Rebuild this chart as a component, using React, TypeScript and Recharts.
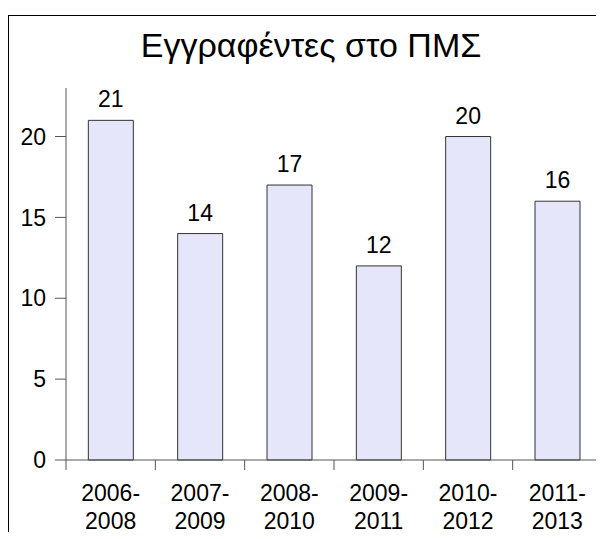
import { BarChart, Bar, XAxis, YAxis, LabelList } from 'recharts';

const periods = ['2006-2008', '2007-2009', '2008-2010', '2009-2011', '2010-2012', '2011-2013'];
const enrolled = [21, 14, 17, 12, 20, 16];
const yTicks = [0, 5, 10, 15, 20];

const data = periods.map((p, i) => ({ name: p, value: enrolled[i] }));

const chartW = 595;
const chartH = 523;
const margin = { top: 72, right: 2, bottom: 19, left: 7 };
const yAxisW = 50;
const band = (chartW - margin.left - margin.right - yAxisW) / periods.length;

const font = '"Liberation Sans", Arial, sans-serif';

function PeriodTick(props: any) {
  const { x, y, payload, index } = props;
  const [a, b] = String(payload.value).split('-');
  return (
    <g>
      <line x1={x - band / 2} y1={y} x2={x - band / 2} y2={y + 10} stroke="#555" />
      {index === periods.length - 1 && (
        <line x1={x + band / 2} y1={y} x2={x + band / 2} y2={y + 10} stroke="#555" />
      )}
      <text x={x} y={y + 41} textAnchor="middle" fontSize={23} fill="#000" fontFamily={font}>
        {a}-
      </text>
      <text x={x} y={y + 69} textAnchor="middle" fontSize={23} fill="#000" fontFamily={font}>
        {b}
      </text>
    </g>
  );
}

export default function App() {
  return (
    <div
      style={{
        position: 'relative',
        top: 7,
        width: 596,
        height: 524,
        boxSizing: 'border-box',
        borderTop: '1px solid #000',
        borderLeft: '1px solid #000',
        fontFamily: font,
      }}
    >
      <div
        style={{
          position: 'absolute',
          top: 12,
          left: 0,
          width: 604,
          textAlign: 'center',
          fontSize: 34,
          lineHeight: '34px',
          color: '#000',
        }}
      >
        Εγγραφέντες στο ΠΜΣ
      </div>
      <BarChart width={chartW} height={chartH} data={data} margin={margin} barCategoryGap="25%">
        <XAxis
          dataKey="name"
          interval={0}
          height={60}
          tickSize={0}
          tickMargin={0}
          stroke="#555"
          tick={<PeriodTick />}
        />
        <YAxis
          width={yAxisW}
          domain={[0, 23]}
          ticks={yTicks}
          interval={0}
          tickSize={11}
          tickMargin={9}
          stroke="#555"
          tick={{ fill: '#000', fontSize: 23, fontFamily: font }}
        />
        <Bar dataKey="value" fill="#e6e6fa" stroke="#333" strokeWidth={1} isAnimationActive={false}>
          <LabelList dataKey="value" position="top" offset={13} fill="#000" fontSize={23} fontFamily={font} />
        </Bar>
      </BarChart>
    </div>
  );
}
